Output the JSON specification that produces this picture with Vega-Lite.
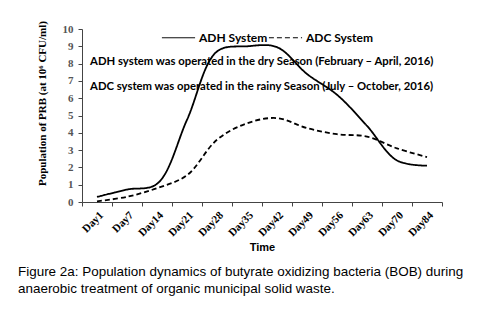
{
  "$schema": "https://vega.github.io/schema/vega-lite/v6.json",
  "width": 360,
  "height": 173,
  "autosize": {"type": "none"},
  "padding": {"left": 82, "top": 29, "right": 39, "bottom": 111},
  "background": "white",
  "config": {
    "view": {"stroke": null}
  },
  "title": {
    "text": ["Figure 2a: Population dynamics of butyrate oxidizing bacteria (BOB) during", "anaerobic treatment of organic municipal solid waste."],
    "orient": "bottom",
    "anchor": "start",
    "frame": "group",
    "dx": -64,
    "offset": 12,
    "font": "Liberation Sans",
    "fontSize": 13.45,
    "fontWeight": "normal",
    "color": "#000000",
    "lineHeight": 17
  },
  "datasets": {
    "series": [
      {"day": "Day1", "system": "ADH System", "pop": 0.29},
      {"day": "Day7", "system": "ADH System", "pop": 0.72},
      {"day": "Day14", "system": "ADH System", "pop": 1.05},
      {"day": "Day21", "system": "ADH System", "pop": 4.75},
      {"day": "Day28", "system": "ADH System", "pop": 8.7},
      {"day": "Day35", "system": "ADH System", "pop": 9.0},
      {"day": "Day42", "system": "ADH System", "pop": 8.95},
      {"day": "Day49", "system": "ADH System", "pop": 7.4},
      {"day": "Day56", "system": "ADH System", "pop": 6.2},
      {"day": "Day63", "system": "ADH System", "pop": 4.4},
      {"day": "Day70", "system": "ADH System", "pop": 2.4},
      {"day": "Day84", "system": "ADH System", "pop": 2.1},
      {"day": "Day1", "system": "ADC System", "pop": 0.04},
      {"day": "Day7", "system": "ADC System", "pop": 0.3},
      {"day": "Day14", "system": "ADC System", "pop": 0.8},
      {"day": "Day21", "system": "ADC System", "pop": 1.55},
      {"day": "Day28", "system": "ADC System", "pop": 3.6},
      {"day": "Day35", "system": "ADC System", "pop": 4.55},
      {"day": "Day42", "system": "ADC System", "pop": 4.85},
      {"day": "Day49", "system": "ADC System", "pop": 4.27},
      {"day": "Day56", "system": "ADC System", "pop": 3.92},
      {"day": "Day63", "system": "ADC System", "pop": 3.78},
      {"day": "Day70", "system": "ADC System", "pop": 3.1},
      {"day": "Day84", "system": "ADC System", "pop": 2.6}
    ],
    "notes": [
      {"day": "Day1", "pop": 8.12, "note": "ADH system was operated  in the dry Season (February – April, 2016)"},
      {"day": "Day1", "pop": 6.67, "note": "ADC system was operated  in the rainy Season (July – October, 2016)"}
    ]
  },
  "encoding": {
    "x": {
      "field": "day",
      "type": "ordinal",
      "sort": null,
      "scale": {"type": "band", "paddingInner": 0, "paddingOuter": 0},
      "axis": {
        "title": "Time",
        "titleFont": "Liberation Sans",
        "titleFontSize": 11,
        "titleFontWeight": "bold",
        "titleColor": "#000000",
        "titlePadding": 4,
        "labelAngle": -45,
        "labelAlign": "right",
        "labelBaseline": "top",
        "labelFont": "Liberation Serif",
        "labelFontWeight": "bold",
        "labelFontSize": 11,
        "labelColor": "#000000",
        "labelPadding": 3,
        "tickBand": "extent",
        "tickSize": 4,
        "tickColor": "#444444",
        "domainColor": "#444444",
        "grid": false
      }
    },
    "y": {
      "field": "pop",
      "type": "quantitative",
      "scale": {"domain": [0, 10]},
      "axis": {
        "title": "Population of PRB (at 10⁶ CFU/ml)",
        "titleFont": "Liberation Serif",
        "titleFontSize": 11,
        "titleFontWeight": "bold",
        "titleColor": "#000000",
        "titlePadding": 15,
        "titleY": 74,
        "values": [0, 1, 2, 3, 4, 5, 6, 7, 8, 9, 10],
        "labelOverlap": false,
        "labelFont": "Liberation Serif",
        "labelFontWeight": "bold",
        "labelFontSize": 11,
        "labelColor": "#555555",
        "labelPadding": 5,
        "tickSize": 4,
        "tickColor": "#444444",
        "domainColor": "#444444",
        "grid": false
      }
    }
  },
  "layer": [
    {
      "data": {"name": "series"},
      "mark": {"type": "line", "interpolate": "catmull-rom", "color": "#000000", "strokeWidth": 1.8},
      "encoding": {
        "strokeDash": {
          "field": "system",
          "type": "nominal",
          "scale": {"domain": ["ADH System", "ADC System"], "range": [[1, 0], [5, 3]]},
          "legend": {
            "title": null,
            "orient": "none",
            "direction": "horizontal",
            "legendX": 79,
            "legendY": -9,
            "symbolType": "stroke",
            "symbolStrokeColor": "#000000",
            "symbolStrokeWidth": 1,
            "symbolSize": 1100,
            "labelFont": "Lato",
            "labelFontWeight": "bold",
            "labelFontSize": 12,
            "labelColor": "#000000",
            "labelOffset": 3,
            "columnPadding": -5,
            "encode": {
              "symbols": {"update": {"strokeDash": {"signal": "datum.value === 'ADH System' ? [2, 1.5] : [3, 2]"}}}
            }
          }
        }
      }
    },
    {
      "data": {"name": "notes"},
      "mark": {"type": "text", "align": "left", "baseline": "middle", "font": "Lato", "fontWeight": "bold", "fontSize": 11.3, "color": "#000000"},
      "encoding": {
        "x": {
          "field": "day",
          "type": "ordinal",
          "sort": null,
          "bandPosition": 0.27,
          "scale": {"type": "band", "paddingInner": 0, "paddingOuter": 0},
          "axis": {
            "title": "Time",
            "titleFont": "Liberation Sans",
            "titleFontSize": 11,
            "titleFontWeight": "bold",
            "titleColor": "#000000",
            "titlePadding": 4,
            "labelAngle": -45,
            "labelAlign": "right",
            "labelBaseline": "top",
            "labelFont": "Liberation Serif",
            "labelFontWeight": "bold",
            "labelFontSize": 11,
            "labelColor": "#000000",
            "labelPadding": 3,
            "tickBand": "extent",
            "tickSize": 4,
            "tickColor": "#444444",
            "domainColor": "#444444",
            "grid": false
          }
        },
        "text": {"field": "note"}
      }
    }
  ]
}
